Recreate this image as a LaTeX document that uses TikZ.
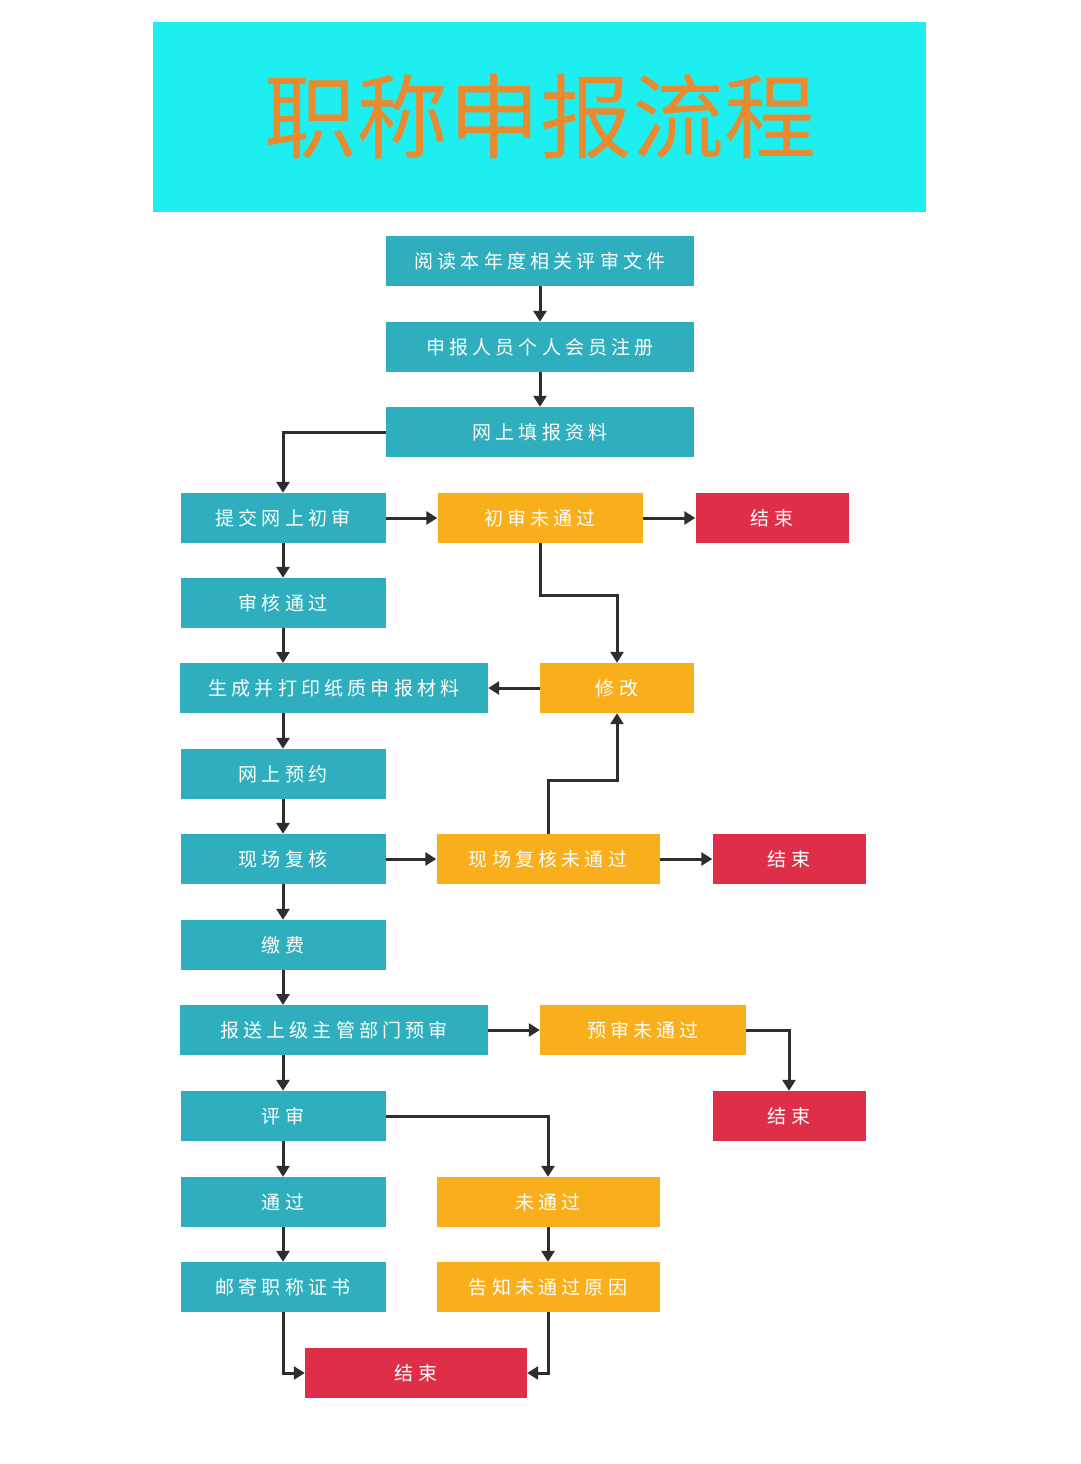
\documentclass[tikz,border=0pt]{standalone}
\usepackage{fontspec}
\newfontfamily\cjk[LetterSpace=22]{Noto Sans CJK SC}
\newfontfamily\cjktitle{Noto Sans CJK SC}
\usetikzlibrary{arrows.meta}
\definecolor{tealbox}{HTML}{2FAFBE}
\definecolor{orangebox}{HTML}{F9AE1C}
\definecolor{redbox}{HTML}{DE2E48}
\definecolor{titlebg}{HTML}{1DEEF0}
\definecolor{titlefg}{HTML}{E98A2E}
\definecolor{arrowc}{HTML}{2E2E2E}
\begin{document}
\begin{tikzpicture}[x=1pt,y=-1pt,
  box/.style={inner sep=0pt,minimum height=50pt,text=white,font=\cjk\fontsize{19}{19}\selectfont},
  tbox/.style={box,fill=tealbox},
  obox/.style={box,fill=orangebox},
  rbox/.style={box,fill=redbox},
  link/.style={draw=arrowc,line width=3pt,-{Triangle[length=11pt,width=13pt]}}]
\useasboundingbox (0,0) rectangle (1080,1464);
\fill[white] (0,0) rectangle (1080,1464);
% title
\fill[titlebg] (153,22) rectangle (926,212);
\node[text=titlefg,font=\cjktitle\fontsize{92}{92}\selectfont] (title) at (540,117) {职称申报流程};
% main column
\node[tbox,minimum width=308pt] (read) at (540,261) {阅读本年度相关评审文件};
\node[tbox,minimum width=308pt] (reg) at (540,347) {申报人员个人会员注册};
\node[tbox,minimum width=308pt] (fill) at (540,432) {网上填报资料};
\node[tbox,minimum width=205pt] (submit) at (283,518) {提交网上初审};
\node[tbox,minimum width=205pt] (pass1) at (283,603) {审核通过};
\node[tbox,minimum width=308pt] (print) at (334,688) {生成并打印纸质申报材料};
\node[tbox,minimum width=205pt] (book) at (283,774) {网上预约};
\node[tbox,minimum width=205pt] (check) at (283,859) {现场复核};
\node[tbox,minimum width=205pt] (pay) at (283,945) {缴费};
\node[tbox,minimum width=308pt] (send) at (334,1030) {报送上级主管部门预审};
\node[tbox,minimum width=205pt] (review) at (283,1116) {评审};
\node[tbox,minimum width=205pt] (ok) at (283,1202) {通过};
\node[tbox,minimum width=205pt] (mail) at (283,1287) {邮寄职称证书};
% side branches
\node[obox,minimum width=205pt] (fail1) at (540,518) {初审未通过};
\node[rbox,minimum width=153pt] (end1) at (772,518) {结束};
\node[obox,minimum width=154pt] (edit) at (617,688) {修改};
\node[obox,minimum width=223pt] (fail2) at (548,859) {现场复核未通过};
\node[rbox,minimum width=153pt] (end2) at (789,859) {结束};
\node[obox,minimum width=206pt] (fail3) at (643,1030) {预审未通过};
\node[rbox,minimum width=153pt] (end3) at (789,1116) {结束};
\node[obox,minimum width=223pt] (fail4) at (548,1202) {未通过};
\node[obox,minimum width=223pt] (reason) at (548,1287) {告知未通过原因};
\node[rbox,minimum width=222pt] (end4) at (416,1373) {结束};
% connectors
\draw[link] (read) -- (reg);
\draw[link] (reg) -- (fill);
\draw[link] (fill.west) -| (submit.north);
\draw[link] (submit) -- (fail1);
\draw[link] (fail1) -- (end1);
\draw[link] (fail1.south) |- (617,595) -- (edit.north);
\draw[link] (submit) -- (pass1);
\draw[link] (pass1) -- (283,663);
\draw[link] (edit) -- (print);
\draw[link] (283,713) -- (book);
\draw[link] (book) -- (check);
\draw[link] (check) -- (fail2);
\draw[link] (fail2) -- (end2);
\draw[link] (fail2.north) |- (617,780) -- (edit.south);
\draw[link] (check) -- (pay);
\draw[link] (pay) -- (283,1005);
\draw[link] (send) -- (fail3);
\draw[link] (fail3.east) -| (end3.north);
\draw[link] (283,1055) -- (review);
\draw[link] (review) -- (ok);
\draw[link] (review.east) -| (fail4.north);
\draw[link] (ok) -- (mail);
\draw[link] (fail4) -- (reason);
\draw[link] (mail.south) |- (end4.west);
\draw[link] (reason.south) |- (end4.east);
\end{tikzpicture}
\end{document}
